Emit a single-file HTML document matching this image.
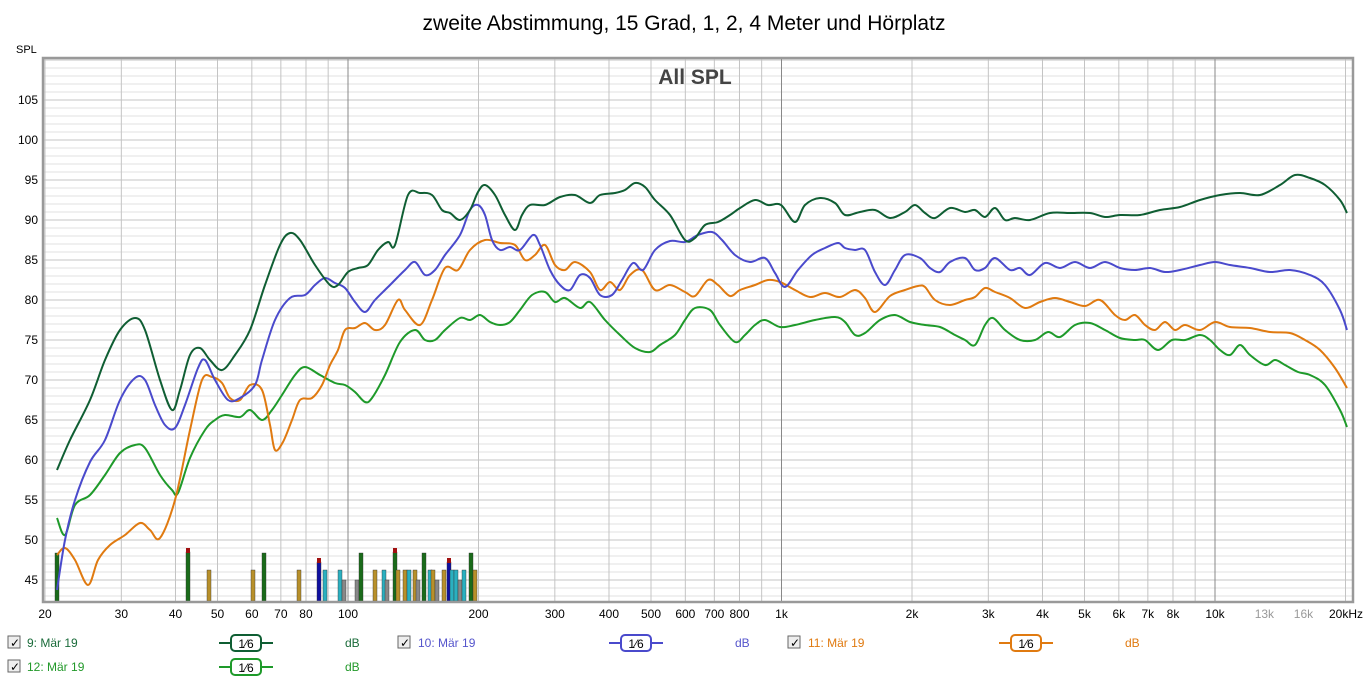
<!DOCTYPE html>
<html><head><meta charset="utf-8"><style>
body{margin:0;background:#fff;width:1369px;height:682px;overflow:hidden;font-family:"Liberation Sans",sans-serif}
</style></head><body>
<svg id="s" width="1369" height="682" xmlns="http://www.w3.org/2000/svg" font-family="Liberation Sans, sans-serif">
<rect width="1369" height="682" fill="#fff"/>
<text x="684" y="30" font-size="21" text-anchor="middle" fill="#000">zweite Abstimmung, 15 Grad, 1, 2, 4 Meter und Hörplatz</text>
<text x="16" y="53" font-size="11" fill="#000">SPL</text>
<g id="grid"></g>
<text x="695" y="84" font-size="21" font-weight="bold" text-anchor="middle" fill="#444">All SPL</text>
<g id="bars"></g>
<g id="curves" fill="none" stroke-width="2" stroke-linejoin="round"></g>
<rect x="43" y="58" width="1310" height="544" fill="none" stroke="#999" stroke-width="2.5"/>
<g id="lab" font-size="12" fill="#000"></g>
<g font-size="12">
<rect x="8" y="636" width="12" height="12" fill="#eee" stroke="#666"/><text x="10" y="647" font-size="12">✓</text>
<text x="27" y="647" fill="#1a6b3a">9: Mär 19</text>
<line x1="219" y1="643" x2="273" y2="643" stroke="#0f5e33" stroke-width="2"/><rect x="231" y="635" width="30" height="16" rx="4" fill="#fff" stroke="#0f5e33" stroke-width="2"/><text x="246" y="648" text-anchor="middle">1⁄6</text>
<text x="345" y="647" fill="#1a6b3a">dB</text>
<rect x="398" y="636" width="12" height="12" fill="#eee" stroke="#666"/><text x="400" y="647">✓</text>
<text x="418" y="647" fill="#5555cc">10: Mär 19</text>
<line x1="609" y1="643" x2="663" y2="643" stroke="#4a4acc" stroke-width="2"/><rect x="621" y="635" width="30" height="16" rx="4" fill="#fff" stroke="#4a4acc" stroke-width="2"/><text x="636" y="648" text-anchor="middle">1⁄6</text>
<text x="735" y="647" fill="#5555cc">dB</text>
<rect x="788" y="636" width="12" height="12" fill="#eee" stroke="#666"/><text x="790" y="647">✓</text>
<text x="808" y="647" fill="#e07a10">11: Mär 19</text>
<line x1="999" y1="643" x2="1053" y2="643" stroke="#e07a10" stroke-width="2"/><rect x="1011" y="635" width="30" height="16" rx="4" fill="#fff" stroke="#e07a10" stroke-width="2"/><text x="1026" y="648" text-anchor="middle">1⁄6</text>
<text x="1125" y="647" fill="#e07a10">dB</text>
<rect x="8" y="660" width="12" height="12" fill="#eee" stroke="#666"/><text x="10" y="671">✓</text>
<text x="27" y="671" fill="#22992a">12: Mär 19</text>
<line x1="219" y1="667" x2="273" y2="667" stroke="#1e9a2a" stroke-width="2"/><rect x="231" y="659" width="30" height="16" rx="4" fill="#fff" stroke="#1e9a2a" stroke-width="2"/><text x="246" y="672" text-anchor="middle">1⁄6</text>
<text x="345" y="671" fill="#22992a">dB</text>
</g>
</svg>
<script>
var NS="http://www.w3.org/2000/svg";
function el(p,t,a){var e=document.createElementNS(NS,t);for(var k in a)e.setAttribute(k,a[k]);p.appendChild(e);return e;}
var g=document.getElementById('grid'),lab=document.getElementById('lab');
function fx(f){return 348+(Math.log10(f)-2)*433.5;}
function fy(d){return 140-(d-100)*8;}
for(var d=43;d<=110;d++){var y=fy(d);el(g,'line',{x1:44,x2:1352,y1:y,y2:y,stroke:d%5==0?'#c4c4c4':'#e0e0e0','stroke-width':1});
 if(d%5==0&&d<=105){var t=el(lab,'text',{x:38,y:y+4,'text-anchor':'end'});t.textContent=d;}}
var dec=[10,100,1000,10000];
dec.forEach(function(D){for(var m=1;m<10;m++){
 var f=D*m; if(f<20||f>21000)continue;
 var x=fx(f);el(g,'line',{x1:x,x2:x,y1:59,y2:601,stroke:m==1?'#888':'#c4c4c4','stroke-width':1});
}});
var labs=[[20,'20'],[30,'30'],[40,'40'],[50,'50'],[60,'60'],[70,'70'],[80,'80'],[100,'100'],[200,'200'],[300,'300'],[400,'400'],[500,'500'],[600,'600'],[700,'700'],[800,'800'],[1000,'1k'],[2000,'2k'],[3000,'3k'],[4000,'4k'],[5000,'5k'],[6000,'6k'],[7000,'7k'],[8000,'8k'],[10000,'10k'],[13000,'13k',1],[16000,'16k',1]];
labs.forEach(function(l){var t=el(lab,'text',{x:fx(l[0]),y:618,'text-anchor':'middle',fill:l[2]?'#999':'#000'});t.textContent=l[1];});
var t=el(lab,'text',{x:1346,y:618,'text-anchor':'middle'});t.textContent='20kHz';
var b=document.getElementById('bars');
var C={g:'#1a6b1a',o:'#b8902a',c:'#2ab0c0',k:'#888',r:'#a01010',b:'#1010a0'};
var bars=[[57,'g',553],[188,'g',552,1],[209,'o',570],[253,'o',570],[264,'g',553],[299,'o',570],[319,'b',562,1],[325,'c',570],[340,'c',570],[344,'k',580],[357,'k',580],[361,'g',553],[375,'o',570],[384,'c',570],[387,'k',580],[395,'g',552,1],[398,'o',570],[405,'o',570],[409,'c',570],[415,'o',570],[418,'k',580],[424,'g',553],[430,'c',570],[433,'o',570],[437,'k',580],[444,'o',570],[449,'b',562,1],[452,'c',570],[456,'c',570],[460,'k',580],[464,'c',570],[471,'g',553],[475,'o',570]];
bars.forEach(function(r){el(b,'rect',{x:r[0]-2,y:r[2],width:4,height:601-r[2],fill:C[r[1]],stroke:'#333','stroke-width':0.4});
 if(r[3])el(b,'rect',{x:r[0]-2,y:r[2]-4,width:4,height:5,fill:C.r});});
function path(pts){var d='M'+pts[0][0]+','+pts[0][1];for(var i=0;i<pts.length-1;i++){var p0=pts[i-1]||pts[i],p1=pts[i],p2=pts[i+1],p3=pts[i+2]||p2;
 d+=' C'+(p1[0]+(p2[0]-p0[0])/6)+','+(p1[1]+(p2[1]-p0[1])/6)+' '+(p2[0]-(p3[0]-p1[0])/6)+','+(p2[1]-(p3[1]-p1[1])/6)+' '+p2[0]+','+p2[1];}return d;}
var cv=document.getElementById('curves');
var S={
'#1e9a2a':[[57,518],[65,535],[75,505],[90,495],[105,475],[120,453],[135,445],[145,448],[160,475],[172,490],[178,493],[190,458],[205,430],[215,420],[225,415],[240,417],[250,410],[262,420],[272,410],[282,395],[295,375],[305,367],[320,375],[335,383],[345,385],[355,392],[365,402],[372,398],[385,375],[400,342],[415,330],[425,340],[435,340],[445,330],[460,318],[470,320],[480,315],[490,322],[500,325],[510,322],[520,310],[532,295],[545,292],[555,302],[565,298],[580,308],[590,302],[605,320],[620,335],[635,348],[650,352],[660,345],[675,335],[685,320],[695,308],[710,310],[720,325],[735,342],[745,335],[755,325],[765,320],[780,327],[795,325],[815,320],[835,317],[845,322],[855,335],[865,333],[880,320],[895,315],[910,322],[925,325],[940,327],[955,335],[965,340],[975,345],[985,325],[993,318],[1005,330],[1020,340],[1035,340],[1048,332],[1060,337],[1075,325],[1090,323],[1105,330],[1120,338],[1135,340],[1145,340],[1158,350],[1172,340],[1185,340],[1200,335],[1210,340],[1220,350],[1230,355],[1240,345],[1250,355],[1265,365],[1275,360],[1285,365],[1298,372],[1310,375],[1325,385],[1340,410],[1347,427]],
'#e07a10':[[57,555],[65,548],[75,560],[88,585],[98,560],[110,545],[125,535],[140,523],[150,530],[160,538],[175,500],[190,430],[202,380],[212,377],[222,383],[230,398],[240,400],[250,385],[262,390],[270,425],[275,450],[283,442],[292,420],[300,400],[312,398],[322,385],[330,365],[338,350],[345,330],[355,328],[365,323],[375,330],[385,325],[398,300],[405,310],[420,325],[432,300],[445,268],[458,270],[470,250],[485,240],[500,243],[515,245],[525,260],[535,255],[545,245],[555,265],[565,270],[575,262],[590,272],[600,290],[610,282],[620,290],[630,275],[642,270],[655,290],[670,285],[685,292],[695,296],[708,280],[718,285],[730,296],[740,290],[755,285],[768,280],[780,282],[795,290],[810,297],[825,293],[840,297],[855,290],[865,298],[875,312],[890,296],[905,290],[918,286],[925,287],[935,300],[950,305],[965,300],[975,297],[985,288],[995,292],[1010,298],[1025,308],[1040,302],[1055,298],[1070,302],[1085,306],[1100,300],[1115,315],[1125,320],[1135,315],[1145,325],[1155,330],[1165,322],[1175,330],[1185,325],[1200,330],[1215,322],[1230,327],[1250,328],[1270,332],[1290,333],[1305,340],[1320,350],[1335,368],[1347,388]],
'#4a4acc':[[57,590],[65,540],[75,500],[90,462],[105,440],[120,400],[135,378],[145,380],[155,405],[165,425],[175,428],[185,405],[198,368],[205,360],[215,380],[228,400],[240,398],[255,385],[262,360],[275,320],[290,298],[305,295],[315,285],[325,278],[335,283],[345,288],[355,302],[365,312],[375,300],[390,285],[405,270],[415,262],[425,275],[435,270],[445,255],[460,235],[470,210],[478,205],[485,215],[492,240],[500,250],[510,247],[520,250],[533,235],[540,245],[550,270],[560,285],[570,290],[580,275],[590,278],[600,295],[612,295],[622,280],[633,263],[643,270],[655,250],[670,241],[685,242],[698,235],[712,232],[722,240],[735,255],[750,262],[765,258],[775,273],[785,287],[798,270],[812,255],[825,248],[838,243],[845,248],[855,250],[865,250],[875,272],[885,285],[895,270],[905,255],[920,258],[930,268],[940,272],[950,262],[965,258],[975,270],[985,268],[995,258],[1010,270],[1020,268],[1030,275],[1045,263],[1060,268],[1075,262],[1090,268],[1105,262],[1120,268],[1135,270],[1150,268],[1165,272],[1180,270],[1200,265],[1215,262],[1230,265],[1250,268],[1270,272],[1290,270],[1310,275],[1325,285],[1340,310],[1347,330]],
'#0f5e33':[[57,470],[70,440],[90,400],[105,360],[120,330],[135,318],[145,330],[160,380],[172,410],[180,390],[190,355],[200,348],[210,360],[222,370],[235,355],[250,330],[265,285],[280,245],[290,233],[300,240],[315,265],[330,285],[338,285],[348,272],[358,268],[368,265],[378,250],[388,242],[395,245],[408,195],[420,193],[432,195],[442,210],[450,213],[460,220],[470,210],[478,192],[485,185],[495,195],[505,215],[515,230],[522,215],[530,205],[545,205],[560,197],[575,195],[590,203],[600,195],[615,193],[625,190],[635,183],[645,187],[655,200],[670,215],[685,240],[695,238],[705,225],[718,222],[730,215],[740,208],[755,200],[768,205],[781,205],[795,222],[805,205],[820,198],[835,203],[845,215],[860,212],[875,210],[890,218],[905,212],[915,205],[925,213],[935,218],[950,208],[965,212],[975,210],[985,217],[995,208],[1005,220],[1015,218],[1030,220],[1050,213],[1070,213],[1090,213],[1105,217],[1120,215],[1140,215],[1160,210],[1180,207],[1200,200],[1220,195],[1240,193],[1260,195],[1280,185],[1295,175],[1310,178],[1325,185],[1340,200],[1347,213]]
};
for(var c in S)el(cv,'path',{d:path(S[c]),stroke:c});
</script>
</body></html>
